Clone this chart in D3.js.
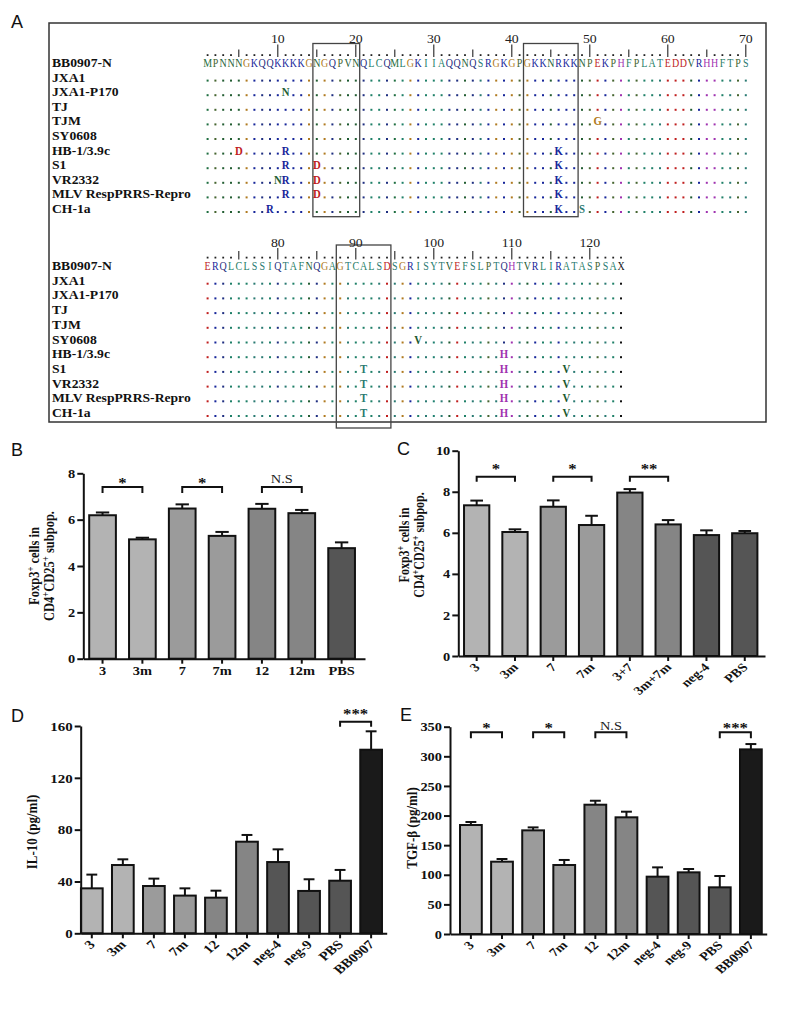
<!DOCTYPE html>
<html>
<head>
<meta charset="utf-8">
<script src="https://cdn.jsdelivr.net/npm/d3@7/dist/d3.min.js"></script>
<style>
html,body{margin:0;padding:0;background:#fff;}
svg{display:block;}
</style>
</head>
<body>
<svg id="fig" width="794" height="1015"></svg>
<script>
// ======================= DATA =======================
// Panel A : alignment
const strainNames = ["BB0907-N","JXA1","JXA1-P170","TJ","TJM","SY0608","HB-1/3.9c","S1","VR2332","MLV RespPRRS-Repro","CH-1a"];
const referenceSeq1 = "MPNNNGKQQKKKKGNGQPVNQLCQMLGKIIAQQNQSRGKGPGKKNRKKNPEKPHFPLATEDDVRHHFTPS"; // positions 1-70
const referenceSeq2 = "ERQLCLSSIQTAFNQGAGTCALSDSGRISYTVEFSLPTQHTVRLIRATASPSAX";                 // positions 71-124
// substitutions relative to BB0907-N : [strain, position, residue]
const substitutions = [
  ["JXA1-P170",11,"N"],
  ["TJM",51,"G"],
  ["SY0608",98,"V"],
  ["HB-1/3.9c",5,"D"],["HB-1/3.9c",11,"R"],["HB-1/3.9c",46,"K"],["HB-1/3.9c",109,"H"],
  ["S1",11,"R"],["S1",15,"D"],["S1",46,"K"],["S1",91,"T"],["S1",109,"H"],["S1",117,"V"],
  ["VR2332",10,"N"],["VR2332",11,"R"],["VR2332",15,"D"],["VR2332",46,"K"],["VR2332",91,"T"],["VR2332",109,"H"],["VR2332",117,"V"],
  ["MLV RespPRRS-Repro",11,"R"],["MLV RespPRRS-Repro",15,"D"],["MLV RespPRRS-Repro",46,"K"],["MLV RespPRRS-Repro",91,"T"],["MLV RespPRRS-Repro",109,"H"],["MLV RespPRRS-Repro",117,"V"],
  ["CH-1a",9,"R"],["CH-1a",46,"K"],["CH-1a",49,"S"],["CH-1a",91,"T"],["CH-1a",109,"H"],["CH-1a",117,"V"]
];
const boxedSites = [[15,20],[42,48],[88,94]];

// Panel B
const catsB = ["3","3m","7","7m","12","12m","PBS"];
const valsB = [6.19,5.15,6.48,5.30,6.47,6.28,4.77];
const errsB = [0.12,0.07,0.18,0.17,0.21,0.14,0.25];
const sigB  = [["3","3m","*"],["7","7m","*"],["12","12m","N.S"]];
const ticksB = [0,2,4,6,8];

// Panel C
const catsC = ["3","3m","7","7m","3+7","3m+7m","neg-4","PBS"];
const valsC = [7.34,6.04,7.27,6.38,7.96,6.41,5.89,5.98];
const errsC = [0.23,0.13,0.31,0.45,0.17,0.21,0.23,0.11];
const sigC  = [["3","3m","*"],["7","7m","*"],["3+7","3m+7m","**"]];
const ticksC = [0,2,4,6,8,10];

// Panel D
const catsD = ["3","3m","7","7m","12","12m","neg-4","neg-9","PBS","BB0907"];
const valsD = [34.7,52.7,36.5,29.1,27.5,70.7,55.0,32.7,40.6,141.7];
const errsD = [10.6,4.4,5.7,5.6,5.4,5.2,9.8,9.0,8.3,14.2];
const sigD  = [["PBS","BB0907","***"]];
const ticksD = [0,40,80,120,160];

// Panel E
const catsE = ["3","3m","7","7m","12","12m","neg-4","neg-9","PBS","BB0907"];
const valsE = [184,122.1,175,116.5,218.3,197,96.8,104.1,78.8,311.7];
const errsE = [5.1,4.5,5.0,8.5,6.7,9.5,15.7,5.6,19.1,9.0];
const sigE  = [["3","3m","*"],["7","7m","*"],["12","12m","N.S"],["PBS","BB0907","***"]];
const ticksE = [0,50,100,150,200,250,300,350];

// ======================= STYLE / LAYOUT =======================
const SERIF = "'Liberation Serif','Times New Roman',serif";
const SANS  = "'Liberation Sans',Arial,sans-serif";
const SX = 1.2;   // horizontal stretch of the original figure's lettering
const resColor = {A:"#1f8068",C:"#1f8068",F:"#1f8068",I:"#1f8068",L:"#1f8068",W:"#1f8068",
  M:"#1f6e40",V:"#1c5a30",Y:"#1f8070",S:"#2a7a72",T:"#2a7a72",N:"#245e33",Q:"#1f2f80",
  G:"#b07a20",P:"#466530",K:"#17269a",R:"#17269a",H:"#a032b0",D:"#c01e1e",E:"#c01e1e",X:"#111"};

const svg = d3.select("#fig");
svg.append("rect").attr("width",794).attr("height",1015).attr("fill","#fff");

function label(x,y,str,opt={}){
  return svg.append("text")
    .attr("transform",`translate(${x},${y}) scale(${opt.sx||1},1)${opt.rot?` rotate(${opt.rot})`:""}`)
    .attr("font-family",opt.family||SERIF).attr("font-size",opt.size||12)
    .attr("font-weight",opt.weight||"normal").attr("fill",opt.fill||"#111")
    .attr("text-anchor",opt.anchor||"start").text(str);
}

// panel letters
label(11,28,"A",{family:SANS,size:18});
label(11,456,"B",{family:SANS,size:18});
label(397,455,"C",{family:SANS,size:18});
label(11,722,"D",{family:SANS,size:18});
label(400,721,"E",{family:SANS,size:18});

// ======================= PANEL A =======================
svg.append("rect").attr("x",49).attr("y",23).attr("width",717).attr("height",399)
  .attr("fill","none").attr("stroke","#333").attr("stroke-width",1.5);

const colLeft = 203.7, colW = 7.8;
const blocks = [
  {seq:referenceSeq1, start:1,  y0:67,  y1:213, numY:43,    t10:44.5, t5:49.5, tB:57,    dotB:56,    boxTop:43.5, boxBot:216.7},
  {seq:referenceSeq2, start:71, y0:270, y1:417, numY:246.5, t10:248,  t5:251,  tB:259.5, dotB:258.5, boxTop:245,  boxBot:428}
];
const subLookup = new Map(substitutions.map(d=>[d[0]+"|"+d[1], d[2]]));

blocks.forEach(b=>{
  const n = b.seq.length;
  const cols = d3.range(1,n+1);
  const x = d3.scaleBand().domain(cols).range([colLeft, colLeft+n*colW]);
  const cx = c => x(c)+x.bandwidth()/2;
  const yRow = d3.scalePoint().domain(strainNames).range([b.y0,b.y1]);
  const g = svg.append("g");
  const pos = c => b.start + c - 1;
  // ruler
  g.selectAll("rect.rdot").data(cols.filter(c=>pos(c)%5!==0)).join("rect")
    .attr("x",c=>cx(c)-0.9).attr("y",b.dotB-1.8).attr("width",1.8).attr("height",1.8).attr("fill","#222");
  g.selectAll("line.rtick").data(cols.filter(c=>pos(c)%5===0)).join("line")
    .attr("x1",cx).attr("x2",cx).attr("y1",c=>pos(c)%10===0?b.t10:b.t5).attr("y2",b.tB)
    .attr("stroke","#222").attr("stroke-width",1.1);
  cols.filter(c=>pos(c)%10===0).forEach(c=>{
    label(cx(c),b.numY,String(pos(c)),{size:11.5,sx:1.2,anchor:"middle",fill:"#222"});
  });
  // names
  strainNames.forEach(s=>{
    label(52,yRow(s),s,{size:13,weight:"bold",sx:1.05,fill:"#111"});
  });
  // rows
  strainNames.forEach((s,si)=>{
    cols.forEach(c=>{
      const ref = b.seq[c-1];
      if(si===0){
        label(cx(c),yRow(s),ref,{size:13.5,sx:0.74,anchor:"middle",fill:resColor[ref]||"#111"});
      } else {
        const sub = subLookup.get(s+"|"+pos(c));
        if(sub){
          label(cx(c),yRow(s),sub,{size:13.5,weight:"bold",sx:0.8,anchor:"middle",fill:resColor[sub]||"#111"});
        } else {
          g.append("rect").attr("x",cx(c)-1).attr("y",yRow(s)-2).attr("width",2).attr("height",2)
            .attr("fill",resColor[ref]||"#111");
        }
      }
    });
  });
  // boxes
  boxedSites.filter(([a,e])=>a>=b.start && e<b.start+n).forEach(([a,e])=>{
    const c0 = a-b.start+1, c1 = e-b.start+1;
    g.append("rect").attr("x",x(c0)).attr("y",b.boxTop).attr("width",x(c1)+x.bandwidth()-x(c0))
      .attr("height",b.boxBot-b.boxTop).attr("fill","none").attr("stroke","#444").attr("stroke-width",1.3);
  });
});

// ======================= BAR PANELS =======================
const gray4 = ["#b3b3b3","#b3b3b3","#9b9b9b","#9b9b9b","#858585","#858585","#555555","#555555","#555555","#1a1a1a"];
function barPanel(cats, vals, errs, sig, ticks, L){
  const g = svg.append("g");
  const x = d3.scaleBand().domain(cats).range([L.x0,L.x1]).paddingInner(L.pi).paddingOuter(L.po).align(L.align);
  const y = d3.scaleLinear().domain([0,L.yMax]).range([L.yBase,L.yTop]);
  const cx = c => x(c)+x.bandwidth()/2;
  const rows = cats.map((c,i)=>({c, v:vals[i], e:errs[i], f:L.fills[i]}));
  const capW = x.bandwidth()*0.5;
  const eg = g.append("g").attr("stroke","#111").attr("stroke-width",2);
  eg.selectAll("line").data(rows).join("line")
    .attr("x1",d=>cx(d.c)).attr("x2",d=>cx(d.c)).attr("y1",d=>y(d.v)).attr("y2",d=>y(d.v+d.e));
  const cg = g.append("g").attr("stroke","#111").attr("stroke-width",2);
  cg.selectAll("line").data(rows).join("line")
    .attr("x1",d=>cx(d.c)-capW/2).attr("x2",d=>cx(d.c)+capW/2).attr("y1",d=>y(d.v+d.e)).attr("y2",d=>y(d.v+d.e));
  g.append("g").selectAll("rect").data(rows).join("rect")
    .attr("x",d=>x(d.c)).attr("y",d=>y(d.v)).attr("width",x.bandwidth()).attr("height",d=>L.yBase-y(d.v))
    .attr("fill",d=>d.f).attr("stroke","#111").attr("stroke-width",2);

  // y axis
  const ya = g.append("g").attr("transform",`translate(${L.x0},0)`)
    .call(d3.axisLeft(y).tickValues(ticks).tickSize(6).tickSizeOuter(0).tickPadding(3));
  ya.select(".domain").attr("stroke","#111").attr("stroke-width",2);
  ya.selectAll(".tick line").attr("stroke","#111").attr("stroke-width",2);
  ya.selectAll(".tick text").attr("x",0).attr("dy","0.34em")
    .attr("transform",`translate(-8,0) scale(${SX},1)`)
    .attr("font-family",SERIF).attr("font-weight","bold").attr("font-size",L.tickSize).attr("fill","#111");
  // x axis
  const xa = g.append("g").attr("transform",`translate(0,${L.yBase})`)
    .call(d3.axisBottom(x).tickSize(5).tickSizeOuter(0));
  xa.select(".domain").attr("stroke","#111").attr("stroke-width",2);
  xa.selectAll(".tick line").attr("stroke","#111").attr("stroke-width",2);
  const xt = xa.selectAll(".tick text").attr("y",0).attr("dy",0)
    .attr("font-family",SERIF).attr("font-weight","bold").attr("font-size",L.tickSize).attr("fill","#111");
  if(L.rotate){
    xt.attr("text-anchor","end").attr("transform",`translate(4,12) scale(${SX},1) rotate(-45)`);
  } else {
    xt.attr("text-anchor","middle").attr("transform",`translate(0,16) scale(${SX},1)`);
  }
  // significance brackets
  const yb = y(L.bracketV);
  sig.forEach(([a,b,lab])=>{
    g.append("path").attr("d",`M${cx(a)},${yb+L.leg}V${yb}H${cx(b)}V${yb+L.leg}`)
      .attr("fill","none").attr("stroke","#111").attr("stroke-width",2);
    const mid = (cx(a)+cx(b))/2;
    if(lab==="N.S"){
      label(mid,yb+L.nsDy,lab,{size:12,sx:SX,anchor:"middle",fill:"#222"});
    } else {
      label(mid,yb+L.starDy,lab,{size:14,weight:"bold",sx:SX,anchor:"middle",fill:"#111"});
    }
  });
  // y title (rotated)
  L.title.forEach(t=>{
    const tx = svg.append("g").attr("transform",`translate(${t.x},${L.titleY}) scale(${SX},1) rotate(-90)`)
      .append("text")
      .attr("font-family",SERIF).attr("font-weight","bold").attr("font-size",L.titleSize)
      .attr("text-anchor","middle").attr("fill","#111");
    t.parts.forEach(p=>{
      if(p.sup) tx.append("tspan").attr("baseline-shift","super").attr("font-size",L.titleSize*0.7).text(p.sup);
      else tx.append("tspan").text(p.t);
    });
  });
}

barPanel(catsB, valsB, errsB, sigB, ticksB, {
  x0:83.3, x1:365, yBase:658.7, yTop:473.3, yMax:8, pi:0.33, po:0.2, align:0.37,
  fills:["#b3b3b3","#b3b3b3","#9b9b9b","#9b9b9b","#858585","#858585","#555555"],
  rotate:false, tickSize:12, bracketV:7.41, leg:6, starDy:1, nsDy:-4,
  titleY:566, titleSize:12.5,
  title:[{x:39,parts:[{t:"Foxp3"},{sup:"+"},{t:" cells in"}]},
         {x:54,parts:[{t:"CD4"},{sup:"+"},{t:"CD25"},{sup:"+"},{t:" subpop."}]}]
});
barPanel(catsC, valsC, errsC, sigC, ticksC, {
  x0:458.3, x1:765, yBase:656, yTop:450.7, yMax:10, pi:0.34, po:0.174, align:0.43,
  fills:["#b3b3b3","#b3b3b3","#9b9b9b","#9b9b9b","#858585","#858585","#555555","#555555"],
  rotate:true, tickSize:12, bracketV:8.73, leg:5, starDy:-2.5, nsDy:-4,
  titleY:545, titleSize:12,
  title:[{x:409,parts:[{t:"Foxp3"},{sup:"+"},{t:" cells in"}]},
         {x:424,parts:[{t:"CD4"},{sup:"+"},{t:"CD25"},{sup:"+"},{t:" subpop."}]}]
});
barPanel(catsD, valsD, errsD, sigD, ticksD, {
  x0:80.7, x1:386.7, yBase:933.3, yTop:726, yMax:160, pi:0.3, po:0.08, align:0.05,
  fills:gray4, rotate:true, tickSize:12.5, bracketV:163.3, leg:5, starDy:-2.5, nsDy:-4,
  titleY:832, titleSize:13,
  title:[{x:37,parts:[{t:"IL-10 (pg/ml)"}]}]
});
barPanel(catsE, valsE, errsE, sigE, ticksE, {
  x0:450, x1:766.7, yBase:934, yTop:726.7, yMax:350, pi:0.3, po:0.24, align:0.67,
  fills:gray4, rotate:true, tickSize:12, bracketV:340.5, leg:6, starDy:1, nsDy:-2,
  titleY:828, titleSize:13,
  title:[{x:417,parts:[{t:"TGF-β (pg/ml)"}]}]
});
</script>
</body>
</html>
